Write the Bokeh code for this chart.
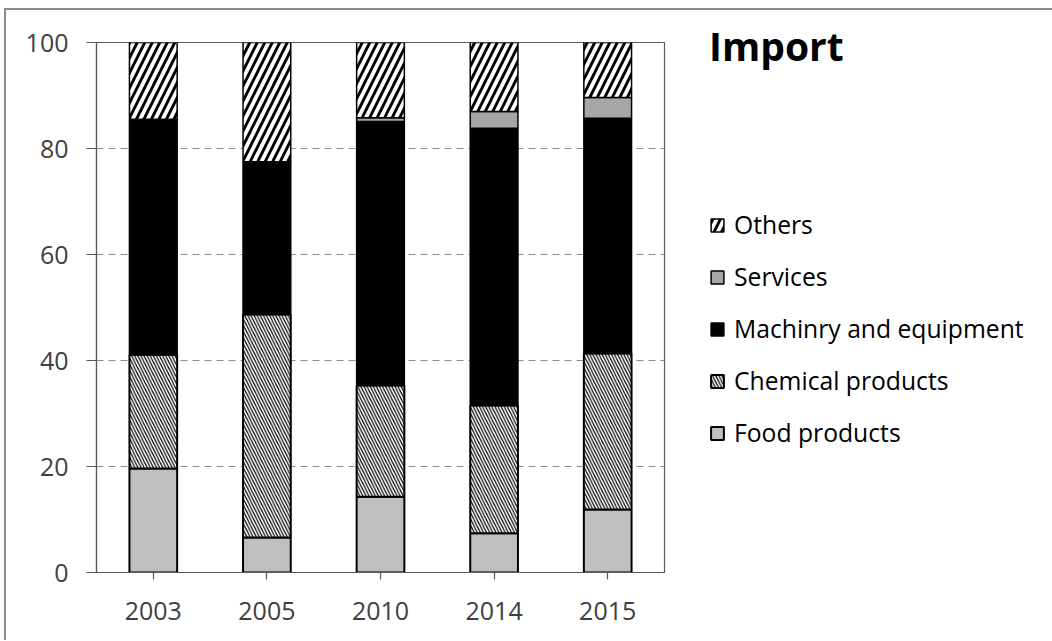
from bokeh.plotting import figure
from bokeh.models import FactorRange, Range1d, FixedTicker, Legend, LegendItem
from bokeh.embed import file_html
from bokeh.resources import INLINE

years = ["2003", "2005", "2010", "2014", "2015"]
food = [19.6, 6.6, 14.3, 7.4, 11.9]
chemical = [21.5, 42.1, 21.0, 24.1, 29.4]
machinery = [44.4, 28.8, 49.8, 52.3, 44.4]
services = [0.0, 0.0, 0.7, 3.2, 3.9]
others = [14.5, 22.5, 14.2, 13.0, 10.4]

series = ["Food products", "Chemical products", "Machinry and equipment", "Services", "Others"]
keys = ["food", "chemical", "machinery", "services", "others"]
y_ticks = [0, 20, 40, 60, 80, 100]

data = dict(years=years, food=food, chemical=chemical, machinery=machinery,
            services=services, others=others)

FONT = "Open Sans"

p = figure(x_range=FactorRange(*years), y_range=Range1d(0, 100),
           frame_width=568, frame_height=530, output_backend="svg", toolbar_location=None,
           min_border_left=90, min_border_top=32, min_border_bottom=68, min_border_right=380)
p.styles = {"border-left": "2px solid #8c8c8c", "border-top": "2px solid #8c8c8c",
            "margin-left": "4px", "margin-top": "8px"}

fills = ["#bfbfbf", "white", "black", "#a6a6a6", "white"]
hatches = [" ", "\\", " ", " ", "/"]
hscale = [10, 6.2, 10, 10, 15]
hweight = [1, 1.2, 1, 1, 2.8]

rs = p.vbar_stack(keys, x="years", width=0.42, source=data,
                  fill_color=fills, line_color="black", line_width=[2, 2, 1.5, 1.5, 1.5],
                  hatch_pattern=hatches, hatch_color="black",
                  hatch_scale=hscale, hatch_weight=hweight)

p.outline_line_color = "#595959"
p.outline_line_width = 1.2

p.xgrid.grid_line_color = None
p.ygrid.ticker = FixedTicker(ticks=y_ticks)
p.ygrid.grid_line_color = "#8c8c8c"
p.ygrid.grid_line_dash = "7 5"
p.ygrid.grid_line_width = 1

p.yaxis.ticker = FixedTicker(ticks=y_ticks)
p.yaxis.minor_tick_line_color = None
p.yaxis.major_tick_in = 0
p.yaxis.major_tick_out = 10
p.yaxis.major_label_standoff = 18
for ax in (p.xaxis[0], p.yaxis[0]):
    ax.axis_line_color = "#595959"
    ax.axis_line_width = 1.2
    ax.major_tick_line_color = "#595959"
    ax.major_tick_line_width = 1.2
    ax.major_label_text_font = FONT
    ax.major_label_text_font_size = "25px"
    ax.major_label_text_color = "#404040"
p.xaxis.major_tick_in = 0
p.xaxis.major_tick_out = 7
p.xaxis.major_label_standoff = 22

items = [LegendItem(label=series[i], renderers=[rs[i]]) for i in [4, 3, 2, 1, 0]]
legend = Legend(items=items, location=(45, 123), orientation="vertical",
                border_line_color=None, background_fill_alpha=0,
                label_text_font=FONT, label_text_font_size="24.7px", label_text_color="black",
                glyph_width=16, glyph_height=16, spacing=19, padding=0, margin=0,
                label_standoff=9,
                title="Import", title_text_font=FONT, title_text_font_size="39px",
                title_text_font_style="bold", title_text_color="black",
                title_standoff=136)
p.add_layout(legend, "right")

open("out.html", "w").write(file_html(p, INLINE))
